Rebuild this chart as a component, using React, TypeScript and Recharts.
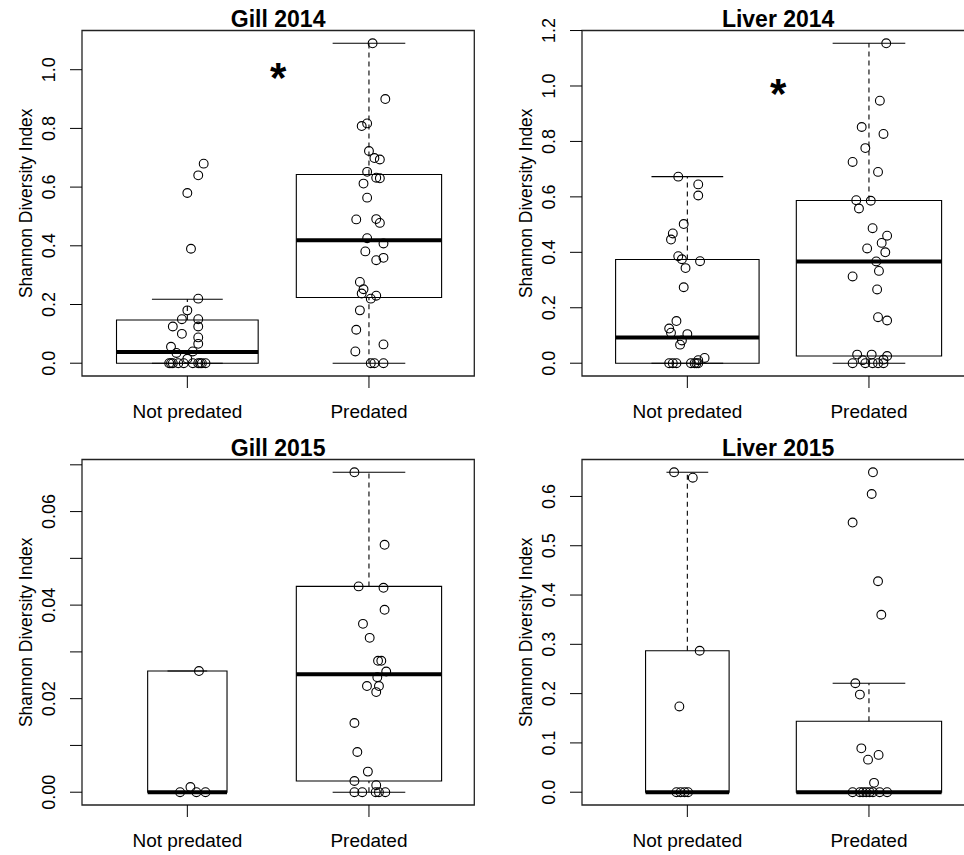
import React from 'react';
import {
  ScatterChart,
  Scatter,
  XAxis,
  YAxis,
  ReferenceArea,
  ReferenceLine,
  ReferenceDot,
} from 'recharts';

const FONT = '"Liberation Sans", Arial, Helvetica, sans-serif';
const groups = ['Not predated', 'Predated'];

// box stats: [lower whisker, Q1, median, Q3, upper whisker]
const gill14Boxes = [
  [0, 0, 0.038, 0.147, 0.218],
  [0, 0.224, 0.419, 0.643, 1.09],
];
const liver14Boxes = [
  [0, 0, 0.093, 0.374, 0.673],
  [0, 0.026, 0.367, 0.587, 1.154],
];
const gill15Boxes = [
  [0, 0, 0, 0.0259, 0.0259],
  [0, 0.0024, 0.0252, 0.044, 0.0684],
];
const liver15Boxes = [
  [0, 0, 0, 0.287, 0.649],
  [0, 0, 0, 0.144, 0.221],
];

// individual samples (values) and the horizontal jitter seen in the plot
const gill14NP = [0.68, 0.64, 0.58, 0.39, 0.22, 0.18, 0.15, 0.15, 0.125, 0.125, 0.1, 0.088, 0.066, 0.056, 0.04, 0.035, 0.015, 0, 0, 0, 0, 0, 0, 0, 0, 0, 0];
const gill14NPJitter = [0.09, 0.06, 0, 0.02, 0.06, 0, -0.03, 0.06, -0.08, 0.06, -0.03, 0.06, 0.06, -0.09, 0.03, -0.06, 0, -0.1, -0.08, -0.05, -0.02, 0.03, 0.06, 0.08, 0.1, -0.09, 0.07];
const gill14P = [1.09, 0.9, 0.817, 0.808, 0.723, 0.699, 0.694, 0.652, 0.632, 0.63, 0.612, 0.564, 0.49, 0.491, 0.478, 0.426, 0.408, 0.381, 0.359, 0.351, 0.277, 0.252, 0.2375, 0.23, 0.22, 0.18, 0.114, 0.064, 0.04, 0, 0, 0];
const gill14PJitter = [0.02, 0.09, -0.01, -0.04, 0, 0.03, 0.06, -0.01, 0.04, 0.06, -0.03, -0.01, -0.07, 0.04, 0.06, -0.01, 0.08, -0.02, 0.08, 0.04, -0.05, -0.03, -0.04, 0.04, 0.01, -0.05, -0.07, 0.08, -0.075, 0.01, 0.03, 0.08];

const liver14NP = [0.673, 0.645, 0.605, 0.502, 0.468, 0.446, 0.386, 0.375, 0.368, 0.343, 0.274, 0.152, 0.125, 0.11, 0.105, 0.082, 0.067, 0.019, 0.011, 0, 0, 0, 0, 0, 0, 0];
const liver14NPJitter = [-0.05, 0.06, 0.06, -0.02, -0.08, -0.09, -0.05, -0.03, 0.07, -0.01, -0.02, -0.06, -0.1, -0.09, 0, -0.03, -0.04, 0.095, 0.06, -0.1, -0.08, -0.06, 0.02, 0.04, 0.05, 0.06];
const liver14P = [1.154, 0.947, 0.852, 0.827, 0.776, 0.726, 0.69, 0.588, 0.586, 0.558, 0.487, 0.46, 0.434, 0.414, 0.4, 0.367, 0.333, 0.313, 0.266, 0.166, 0.154, 0.031, 0.031, 0.026, 0.013, 0.011, 0, 0, 0, 0, 0];
const liver14PJitter = [0.095, 0.06, -0.04, 0.08, -0.02, -0.09, 0.05, -0.07, 0.01, -0.055, 0.02, 0.1, 0.07, -0.01, 0.09, 0.04, 0.055, -0.09, 0.045, 0.05, 0.1, -0.065, 0.015, 0.1, 0.08, -0.035, -0.09, -0.02, 0.02, 0.05, 0.08];

const gill15NP = [0.0259, 0.0011, 0, 0, 0];
const gill15NPJitter = [0.064, 0.017, -0.04, 0.05, 0.1];
const gill15P = [0.0684, 0.0529, 0.044, 0.0437, 0.039, 0.036, 0.033, 0.0281, 0.0281, 0.0258, 0.0246, 0.0227, 0.0227, 0.0214, 0.0148, 0.0086, 0.0044, 0.0024, 0.0015, 0, 0, 0, 0, 0];
const gill15PJitter = [-0.08, 0.086, -0.057, 0.08, 0.086, -0.033, 0.004, 0.05, 0.068, 0.095, 0.046, -0.011, 0.055, 0.04, -0.08, -0.064, -0.006, -0.08, 0.04, -0.08, -0.037, 0.037, 0.055, 0.09];

const liver15NP = [0.649, 0.638, 0.287, 0.174, 0, 0, 0, 0];
const liver15NPJitter = [-0.073, 0.03, 0.068, -0.044, -0.06, -0.037, -0.015, 0.004];
const liver15P = [0.649, 0.605, 0.547, 0.428, 0.36, 0.221, 0.198, 0.089, 0.0757, 0.066, 0.019, 0, 0, 0, 0, 0, 0, 0, 0];
const liver15PJitter = [0.022, 0.015, -0.09, 0.05, 0.068, -0.075, -0.05, -0.042, 0.053, -0.005, 0.028, -0.09, -0.05, -0.033, -0.015, 0.004, 0.022, 0.059, 0.1];

// y ticks
const ticks14Gill = [0, 0.2, 0.4, 0.6, 0.8, 1.0];
const ticks14GillLabels = ['0.0', '0.2', '0.4', '0.6', '0.8', '1.0'];
const ticks14Liver = [0, 0.2, 0.4, 0.6, 0.8, 1.0, 1.2];
const ticks14LiverLabels = ['0.0', '0.2', '0.4', '0.6', '0.8', '1.0', '1.2'];
const ticks15Gill = [0, 0.01, 0.02, 0.03, 0.04, 0.05, 0.06, 0.07];
const ticks15GillLabels = ['0.00', '', '0.02', '', '0.04', '', '0.06', ''];
const ticks15Liver = [0, 0.1, 0.2, 0.3, 0.4, 0.5, 0.6];
const ticks15LiverLabels = ['0.0', '0.1', '0.2', '0.3', '0.4', '0.5', '0.6'];

type Panel = {
  title: string;
  left: number;
  top: number;
  boxes: number[][];
  values: number[][];
  jitter: number[][];
  ticks: number[];
  tickLabels: string[];
  boxWidths: number[];
  star: boolean;
};

const panels: Panel[] = [
  { title: 'Gill 2014', left: 0, top: 0, boxes: gill14Boxes, values: [gill14NP, gill14P], jitter: [gill14NPJitter, gill14PJitter], ticks: ticks14Gill, tickLabels: ticks14GillLabels, boxWidths: [0.78, 0.8], star: true },
  { title: 'Liver 2014', left: 500.4, top: 0, boxes: liver14Boxes, values: [liver14NP, liver14P], jitter: [liver14NPJitter, liver14PJitter], ticks: ticks14Liver, tickLabels: ticks14LiverLabels, boxWidths: [0.79, 0.8], star: true },
  { title: 'Gill 2015', left: 0, top: 429, boxes: gill15Boxes, values: [gill15NP, gill15P], jitter: [gill15NPJitter, gill15PJitter], ticks: ticks15Gill, tickLabels: ticks15GillLabels, boxWidths: [0.437, 0.8], star: false },
  { title: 'Liver 2015', left: 500, top: 429, boxes: liver15Boxes, values: [liver15NP, liver15P], jitter: [liver15NPJitter, liver15PJitter], ticks: ticks15Liver, tickLabels: ticks15LiverLabels, boxWidths: [0.46, 0.8], star: false },
];

const W = 480;
const H = 425;
const M = { top: 30.5, right: 5.7, bottom: 0, left: 0 };
const Y_AXIS_W = 82;
const X_AXIS_H = 49;
const X_DOMAIN: [number, number] = [0.42, 2.58];

function yDomain(p: Panel): [number, number] {
  const all = [...p.boxes.flat(), ...p.values.flat()];
  const lo = Math.min(...all);
  const hi = Math.max(...all);
  const pad = (hi - lo) * 0.04;
  return [lo - pad, hi + pad];
}

const Circle = (props: any) => {
  const { cx, cy } = props;
  if (cx == null || cy == null) return null;
  return <circle cx={cx} cy={cy} r={4.4} fill="none" stroke="#000" strokeWidth={1.1} />;
};

function BoxPanel({ p }: { p: Panel }) {
  const [lo, hi] = yDomain(p);
  const plotTop = M.top;
  const plotBottom = H - X_AXIS_H;
  const midY = (plotTop + plotBottom) / 2;
  const plotMidX = Y_AXIS_W + (W - M.right - Y_AXIS_W) / 2;

  const elems: React.ReactNode[] = [];
  p.boxes.forEach((b, i) => {
    const cx = i + 1;
    const hw = p.boxWidths[i] / 2;
    const cw = hw / 2;
    const [wl, q1, med, q3, wh] = b;
    const line = { stroke: '#000', strokeWidth: 1.1, ifOverflow: 'visible' as const };
    if (wh > q3)
      elems.push(<ReferenceLine key={`wu${i}`} segment={[{ x: cx, y: q3 }, { x: cx, y: wh }]} {...line} strokeDasharray="5 4" />);
    if (q1 > wl)
      elems.push(<ReferenceLine key={`wl${i}`} segment={[{ x: cx, y: wl }, { x: cx, y: q1 }]} {...line} strokeDasharray="5 4" />);
    elems.push(<ReferenceLine key={`cu${i}`} segment={[{ x: cx - cw, y: wh }, { x: cx + cw, y: wh }]} {...line} />);
    elems.push(<ReferenceLine key={`cl${i}`} segment={[{ x: cx - cw, y: wl }, { x: cx + cw, y: wl }]} {...line} />);
    elems.push(
      <ReferenceArea key={`b${i}`} x1={cx - hw} x2={cx + hw} y1={q1} y2={q3} fill="#fff" fillOpacity={0} stroke="#000" strokeWidth={1.1} ifOverflow="visible" />
    );
    elems.push(<ReferenceLine key={`m${i}`} segment={[{ x: cx - hw, y: med }, { x: cx + hw, y: med }]} stroke="#000" strokeWidth={4} ifOverflow="visible" />);
  });

  const XTick = (props: any) => {
    const { x, y, payload } = props;
    return (
      <text x={x} y={y} textAnchor="middle" fontFamily={FONT} fontSize={19} fill="#000">
        {groups[payload.value - 1]}
      </text>
    );
  };
  const YTick = (props: any) => {
    const { x, y, index } = props;
    return (
      <text x={x} y={y} transform={`rotate(-90, ${x}, ${y})`} textAnchor="middle" fontFamily={FONT} fontSize={18} fill="#000">
        {p.tickLabels[index]}
      </text>
    );
  };

  return (
    <div style={{ position: 'absolute', left: p.left, top: p.top, width: W, height: H }}>
      <ScatterChart width={W} height={H} margin={M} style={{ overflow: 'visible' }}>
        <XAxis
          type="number"
          dataKey="x"
          domain={X_DOMAIN}
          ticks={[1, 2]}
          interval={0}
          allowDataOverflow
          axisLine={false}
          tickLine={{ stroke: '#000' }}
          tickSize={12}
          tickMargin={30}
          height={X_AXIS_H}
          tick={<XTick />}
        />
        <YAxis
          type="number"
          dataKey="y"
          domain={[lo, hi]}
          ticks={p.ticks}
          interval={0}
          allowDataOverflow
          axisLine={false}
          tickLine={{ stroke: '#000' }}
          tickSize={12}
          tickMargin={15}
          width={Y_AXIS_W}
          tick={<YTick />}
        />
        <ReferenceArea x1={X_DOMAIN[0]} x2={X_DOMAIN[1]} y1={lo} y2={hi} fill="#fff" fillOpacity={0} stroke="#222" strokeWidth={1.3} ifOverflow="visible" />
        {elems}
        {p.values.map((vals, gi) => (
          <Scatter
            key={`s${gi}`}
            data={vals.map((v, k) => ({ x: gi + 1 + p.jitter[gi][k], y: v }))}
            shape={Circle}
            isAnimationActive={false}
          />
        ))}
        {p.star && (
          <ReferenceDot
            x={1.5}
            y={1.0}
            r={0}
            ifOverflow="visible"
            shape={(s: any) => (
              <text x={s.cx} y={s.cy + 22} textAnchor="middle" fontFamily={FONT} fontWeight="bold" fontSize={42} fill="#000">
                *
              </text>
            )}
          />
        )}
      </ScatterChart>
      <svg width={W} height={H} style={{ position: 'absolute', left: 0, top: 0, pointerEvents: 'none', overflow: 'visible' }}>
        <text x={plotMidX} y={plotTop - 4} textAnchor="middle" fontFamily={FONT} fontWeight="bold" fontSize={23} fill="#000">
          {p.title}
        </text>
        <text x={32} y={midY} transform={`rotate(-90, 32, ${midY})`} textAnchor="middle" fontFamily={FONT} fontSize={17.5} fill="#000">
          Shannon Diversity Index
        </text>
      </svg>
    </div>
  );
}

export default function App() {
  return (
    <div style={{ position: 'absolute', left: 0, top: 0, width: 964, height: 855, overflow: 'hidden', background: '#fff' }}>
      {panels.map((p) => (
        <BoxPanel key={p.title} p={p} />
      ))}
    </div>
  );
}
